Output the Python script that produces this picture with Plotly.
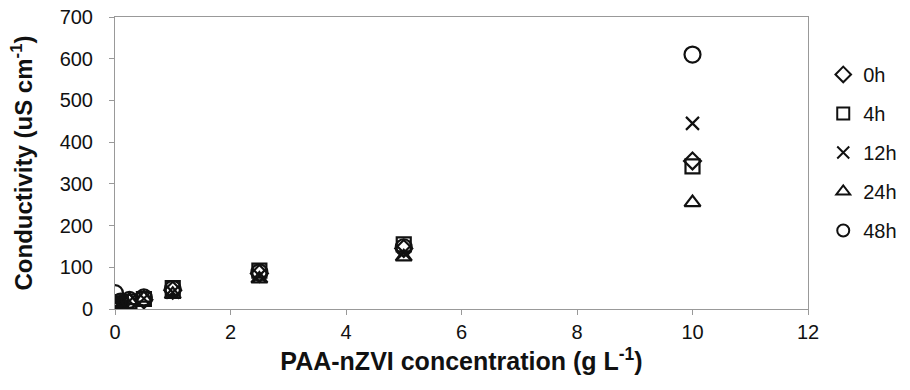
import plotly.graph_objects as go

conc = [0, 0.05, 0.1, 0.25, 0.5, 1, 2.5, 5, 10]
series_names = ["0h", "4h", "12h", "24h", "48h"]
v_0h = [2, 8, 12, 16, 22, 45, 85, 145, 355]
v_4h = [3, 9, 13, 18, 24, 50, 92, 155, 342]
v_12h = [4, 10, 14, 19, 25, 40, 80, 135, 445]
v_24h = [5, 11, 15, 20, 26, 35, 72, 125, 255]
v_48h = [38, 15, 18, 22, 28, 48, 88, 148, 610]
values = [v_0h, v_4h, v_12h, v_24h, v_48h]
symbols = ["diamond-open", "square-open", "x-thin-open", "triangle-up-open", "circle-open"]
sizes = [13, 14, 13, 14, 16]

fig = go.Figure()
for i, (name, vals) in enumerate(zip(series_names, values)):
    fig.add_trace(go.Scatter(
        x=conc, y=vals, mode="markers", name=name, legendgroup=name,
        marker=dict(symbol=symbols[i], size=sizes[i], color="#111",
                    line=dict(width=2.2, color="#111")),
    ))

font = "Liberation Sans, Arial, sans-serif"
fig.update_layout(
    width=910, height=390,
    margin=dict(l=115, r=102, t=17, b=81, autoexpand=False),
    paper_bgcolor="white", plot_bgcolor="white",
    font=dict(family=font, size=20, color="#111"),
    showlegend=True,
    legend=dict(x=1.022, y=0.87, xanchor="left", yanchor="top",
                traceorder="grouped", tracegroupgap=10,
                font=dict(size=20), itemsizing="constant", itemwidth=30),
    xaxis=dict(range=[0, 12], tickvals=[0, 2, 4, 6, 8, 10, 12], automargin=False,
               showgrid=False, zeroline=False, showline=True, linecolor="#999",
               linewidth=1, mirror=True, ticks="outside", ticklen=5, tickcolor="#999",
               tickfont=dict(size=20),
               title=dict(text="<b>PAA-nZVI concentration (g L<sup>-1</sup>)</b>",
                          font=dict(size=25), standoff=10)),
    yaxis=dict(range=[0, 700], tickvals=[0, 100, 200, 300, 400, 500, 600, 700], automargin=False,
               showgrid=False, zeroline=False, showline=True, linecolor="#999",
               linewidth=1, mirror=True, ticks="outside", ticklen=5, tickcolor="#999",
               tickfont=dict(size=20), ticklabelstandoff=12,
               title=dict(text="<b>Conductivity (uS cm<sup>-1</sup>)</b>",
                          font=dict(size=24), standoff=20)),
)

fig.write_html("out.html", config={"displayModeBar": False},
               post_script="document.body.style.margin='0';")
